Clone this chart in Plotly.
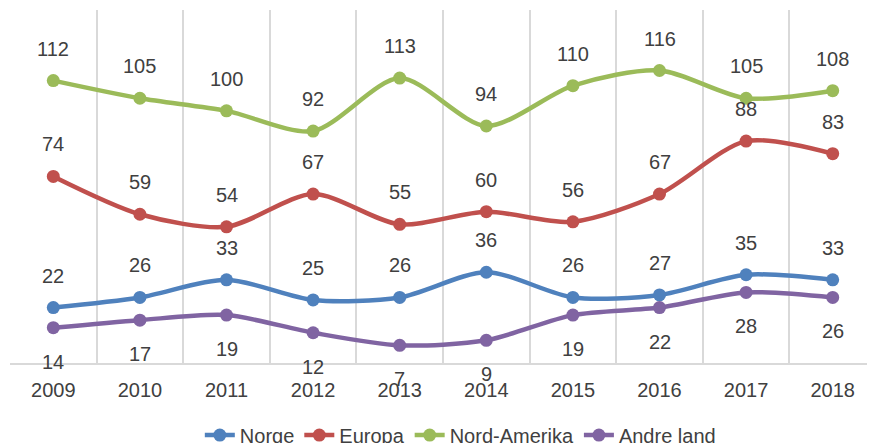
import plotly.graph_objects as go

years = ["2009", "2010", "2011", "2012", "2013", "2014", "2015", "2016", "2017", "2018"]
norge = [22, 26, 33, 25, 26, 36, 26, 27, 35, 33]
europa = [74, 59, 54, 67, 55, 60, 56, 67, 88, 83]
nord_amerika = [112, 105, 100, 92, 113, 94, 110, 116, 105, 108]
andre_land = [14, 17, 19, 12, 7, 9, 19, 22, 28, 26]

series = [
    ("Norge", norge, "#4f81bd", 32),
    ("Europa", europa, "#c0504d", 32),
    ("Nord-Amerika", nord_amerika, "#9bbb59", 32),
    ("Andre land", andre_land, "#8064a2", -34),
]

FONT = "Liberation Sans"
TEXT_COLOR = "#404040"

fig = go.Figure()
annotations = []
for name, values, color, shift in series:
    fig.add_trace(
        go.Scatter(
            x=years,
            y=values,
            name=name,
            mode="lines+markers",
            line={"color": color, "width": 4.5, "shape": "spline", "smoothing": 0.8},
            marker={"color": color, "size": 13},
        )
    )
    # category axis: annotations use the category index
    for i, v in enumerate(values):
        annotations.append(
            {
                "x": i,
                "y": v,
                "text": str(v),
                "showarrow": False,
                "yshift": shift,
                "font": {"family": FONT, "size": 20, "color": TEXT_COLOR},
            }
        )

# page body adds an 8px offset, margins compensate for it
fig.update_layout(
    width=875,
    height=443,
    margin={"l": 2, "r": 7, "t": 2, "b": 88},
    plot_bgcolor="white",
    paper_bgcolor="white",
    font={"family": FONT, "size": 20, "color": TEXT_COLOR},
    annotations=annotations,
    showlegend=True,
    legend={
        "orientation": "h",
        "yref": "container",
        "y": 0.08,
        "yanchor": "top",
        "x": 0.52,
        "xanchor": "center",
        "font": {"family": FONT, "size": 20, "color": TEXT_COLOR},
    },
    xaxis={
        "type": "category",
        "range": [-0.5, len(years) - 0.5],
        "automargin": False,
        "tickson": "boundaries",
        "showgrid": True,
        "gridcolor": "#d9d9d9",
        "gridwidth": 2,
        "showline": True,
        "linecolor": "#d9d9d9",
        "linewidth": 2,
        "ticks": "",
        "tickangle": 0,
        "ticklabelstandoff": 8,
        "tickfont": {"family": FONT, "size": 20, "color": TEXT_COLOR},
    },
    yaxis={"range": [0, 140], "visible": False, "automargin": False},
)

fig.write_html("out.html")
